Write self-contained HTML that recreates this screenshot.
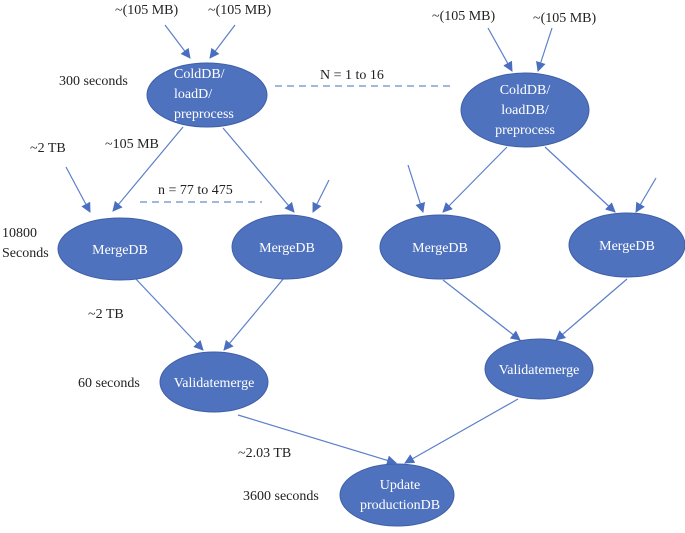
<!DOCTYPE html>
<html><head><style>body{margin:0;background:#fff}</style></head><body>
<svg width="685" height="528" viewBox="0 0 685 528" xmlns="http://www.w3.org/2000/svg" font-family="Liberation Serif, serif" font-size="14">
<defs><marker id="a" markerWidth="10" markerHeight="10" refX="9" refY="5" orient="auto" markerUnits="userSpaceOnUse"><path d="M0,0 L10,5 L0,10 z" fill="#4a6fc0"/></marker></defs>
<g stroke="#5b7fca" stroke-width="1.2" fill="none" marker-end="url(#a)">
<line x1="165" y1="25" x2="190" y2="58"/>
<line x1="235" y1="25" x2="210" y2="58"/>
<line x1="183" y1="127" x2="113" y2="211"/>
<line x1="223" y1="128" x2="294" y2="212"/>
<line x1="66" y1="167" x2="90" y2="212"/>
<line x1="329" y1="180" x2="313" y2="212"/>
<line x1="488" y1="28" x2="512" y2="71"/>
<line x1="552" y1="28" x2="538" y2="71"/>
<line x1="507" y1="147" x2="443" y2="212"/>
<line x1="545" y1="147" x2="615" y2="212"/>
<line x1="408" y1="165" x2="423" y2="212"/>
<line x1="656" y1="178" x2="636" y2="212"/>
<line x1="135" y1="278" x2="203" y2="350"/>
<line x1="284" y1="278" x2="224" y2="350"/>
<line x1="443" y1="280" x2="520" y2="340"/>
<line x1="627" y1="279" x2="556" y2="340"/>
<line x1="238" y1="415" x2="396" y2="463"/>
<line x1="518" y1="399" x2="405" y2="463"/>
</g>
<g stroke="#6a8bd0" stroke-width="1.2" stroke-dasharray="7,5">
<line x1="275" y1="86" x2="455" y2="86"/>
<line x1="140" y1="202" x2="262" y2="202"/>
</g>
<g fill="#4f72be" stroke="#3f5fa8" stroke-width="1">
<ellipse cx="207" cy="95" rx="60" ry="32"/>
<ellipse cx="525" cy="110" rx="64" ry="37"/>
<ellipse cx="120" cy="249" rx="62" ry="31"/>
<ellipse cx="287" cy="247" rx="55" ry="32"/>
<ellipse cx="440" cy="247" rx="60" ry="32"/>
<ellipse cx="627" cy="245" rx="58" ry="32"/>
<ellipse cx="214" cy="382" rx="54" ry="30"/>
<ellipse cx="539" cy="369" rx="54" ry="30"/>
<ellipse cx="397" cy="495" rx="57" ry="31"/>
</g>
<g fill="#fff" font-size="14">
<text x="174" y="78">ColdDB/</text><text x="174" y="98">loadD/</text><text x="174" y="118">preprocess</text>
<text x="525" y="94" text-anchor="middle">ColdDB/</text><text x="525" y="114" text-anchor="middle">loadDB/</text><text x="525" y="134" text-anchor="middle">preprocess</text>
<text x="120" y="254" text-anchor="middle">MergeDB</text>
<text x="287" y="252" text-anchor="middle">MergeDB</text>
<text x="440" y="252" text-anchor="middle">MergeDB</text>
<text x="627" y="250" text-anchor="middle">MergeDB</text>
<text x="214" y="387" text-anchor="middle">Validatemerge</text>
<text x="539" y="374" text-anchor="middle">Validatemerge</text>
<text x="400" y="489" text-anchor="middle">Update</text>
<text x="400" y="509" text-anchor="middle">productionDB</text>
</g>
<g fill="#222">
<text x="115" y="14">~(105 MB)</text>
<text x="208" y="14">~(105 MB)</text>
<text x="432" y="20">~(105 MB)</text>
<text x="533" y="22">~(105 MB)</text>
<text x="59" y="85">300 seconds</text>
<text x="320" y="79">N = 1 to 16</text>
<text x="30" y="152">~2 TB</text>
<text x="105" y="148">~105 MB</text>
<text x="158" y="194">n = 77 to 475</text>
<text x="2" y="237">10800</text>
<text x="2" y="257">Seconds</text>
<text x="88" y="318">~2 TB</text>
<text x="78" y="387">60 seconds</text>
<text x="238" y="457">~2.03 TB</text>
<text x="243" y="500">3600 seconds</text>
</g>
</svg>
</body></html>
